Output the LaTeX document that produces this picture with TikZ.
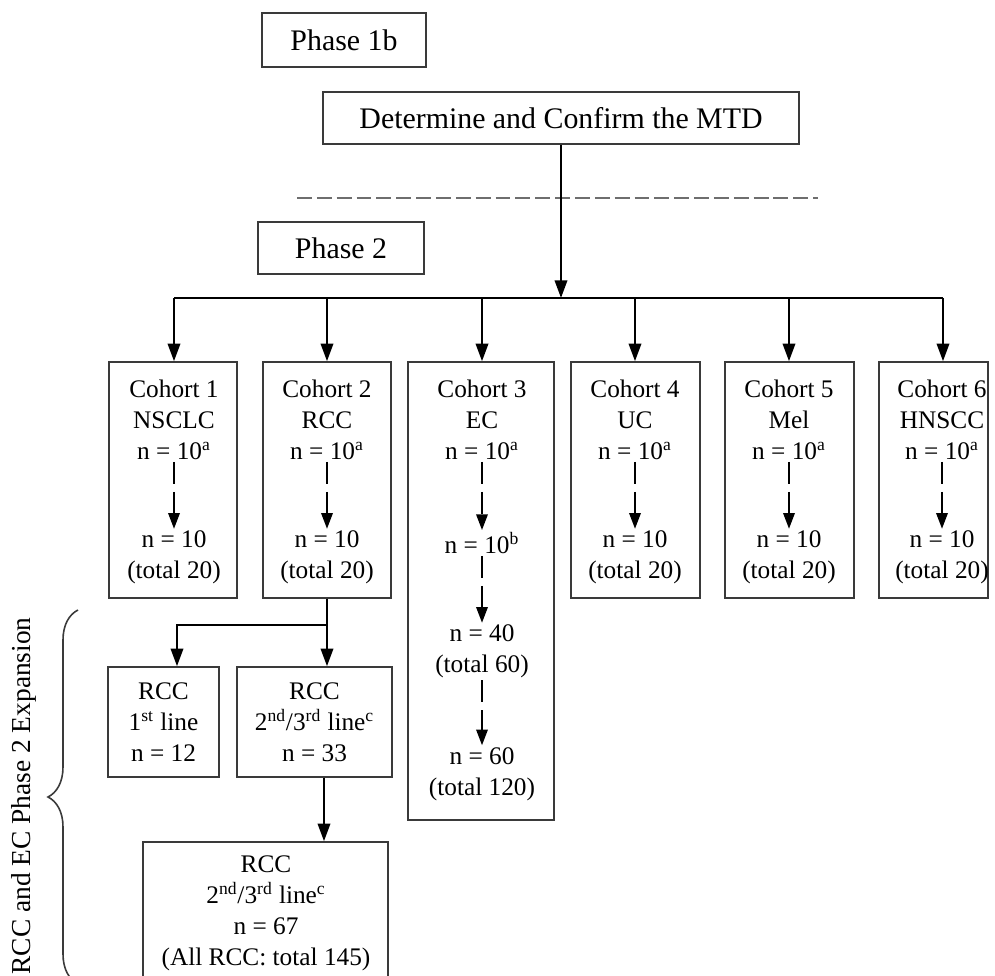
\documentclass[tikz,border=0pt]{standalone}
\usepackage{fontspec}
\setmainfont{Liberation Serif}
\usetikzlibrary{arrows.meta,decorations.pathreplacing}
\definecolor{edge}{HTML}{3A3A3A}
\definecolor{sep}{HTML}{6E6E6E}
\tikzset{
  box/.style={draw=edge, line width=0.85pt, inner sep=0pt},
  big/.style={font=\fontsize{17}{20}\selectfont},
  txt/.style={align=center, inner sep=1pt, font=\fontsize{14.4}{17.6}\selectfont},
  line/.style={line width=1.4pt, black},
  arr/.style={line width=1.4pt, -{Triangle[length=10pt,width=7pt]}},
  darr/.style={line width=1.2pt, dash pattern=on 12.5pt off 4.5pt, -{Triangle[length=9pt,width=6.5pt]}}
}
\begin{document}
\begin{tikzpicture}[x=0.02cm, y=-0.02cm]
\useasboundingbox (0,0) rectangle (995,976);
\node[box, big, minimum width=3.28cm, minimum height=1.08cm] (p1b) at (344,40) {Phase 1b};
\node[box, big, minimum width=9.52cm, minimum height=1.04cm] (mtd) at (561,118) {Determine and Confirm the MTD};
\draw[sep, line width=1.4pt, dash pattern=on 8.5pt off 2.8pt] (297,198) -- (818,198);
\node[box, big, minimum width=3.32cm, minimum height=1.04cm] (p2) at (341,248) {Phase 2};
\coordinate (busl) at (174,298);
\coordinate (busr) at (943,298);
\draw[arr] (mtd) -- (mtd |- busl);
\draw[line] (busl) -- (busr);
\node[box, minimum width=2.56cm, minimum height=4.72cm] (c1) at (173,480) {};
\node[box, minimum width=2.56cm, minimum height=4.72cm] (c2) at (327,480) {};
\node[box, minimum width=2.92cm, minimum height=9.16cm] (c3) at (481,591) {};
\node[box, minimum width=2.58cm, minimum height=4.72cm] (c4) at (635.5,480) {};
\node[box, minimum width=2.58cm, minimum height=4.72cm] (c5) at (789.5,480) {};
\node[box, minimum width=2.18cm, minimum height=4.72cm] (c6) at (933.5,480) {};
\node[txt] (c1a) at (174,420) {Cohort 1\\NSCLC\\n = 10\textsuperscript{a}};
\node[txt] (c1b) at (174,557.5) {n = 10\\(total 20)};
\node[txt] (c2a) at (327,420) {Cohort 2\\RCC\\n = 10\textsuperscript{a}};
\node[txt] (c2b) at (327,557.5) {n = 10\\(total 20)};
\node[txt] (c3a) at (482,420) {Cohort 3\\EC\\n = 10\textsuperscript{a}};
\node[txt] (c3b) at (482,543) {n = 10\textsuperscript{b}};
\node[txt] (c3c) at (482,651.5) {n = 40\\(total 60)};
\node[txt] (c3d) at (482,774) {n = 60\\(total 120)};
\node[txt] (c4a) at (635,420) {Cohort 4\\UC\\n = 10\textsuperscript{a}};
\node[txt] (c4b) at (635,557.5) {n = 10\\(total 20)};
\node[txt] (c5a) at (789,420) {Cohort 5\\Mel\\n = 10\textsuperscript{a}};
\node[txt] (c5b) at (789,557.5) {n = 10\\(total 20)};
\node[txt] (c6a) at (942,420) {Cohort 6\\HNSCC\\n = 10\textsuperscript{a}};
\node[txt] (c6b) at (942,557.5) {n = 10\\(total 20)};
\draw[arr] (c1a |- busl) -- (c1a |- c1.north);
\draw[arr] (c2a |- busl) -- (c2a |- c2.north);
\draw[arr] (c3a |- busl) -- (c3a |- c3.north);
\draw[arr] (c4a |- busl) -- (c4a |- c4.north);
\draw[arr] (c5a |- busl) -- (c5a |- c5.north);
\draw[arr] (busr) -- (busr |- c6.north);
\draw[darr] (c1a) -- (c1b);
\draw[darr] (c2a) -- (c2b);
\draw[darr] (c3a) -- (c3b);
\draw[darr] (c3b) -- (c3c);
\draw[darr] (c3c) -- (c3d);
\draw[darr] (c4a) -- (c4b);
\draw[darr] (c5a) -- (c5b);
\draw[darr] (c6a) -- (c6b);
\node[box, txt, inner sep=0pt, minimum width=2.22cm, minimum height=2.2cm] (r1) at (163.5,722) {RCC\\1\textsuperscript{st} line\\n = 12};
\node[box, txt, inner sep=0pt, minimum width=3.1cm, minimum height=2.2cm] (r2) at (314.5,722) {RCC\\2\textsuperscript{nd}/3\textsuperscript{rd} line\textsuperscript{c}\\n = 33};
\node[box, minimum width=4.9cm, minimum height=3.36cm] (r3) at (265.5,926) {};
\node[txt] (r3t) at (266,913) {RCC\\2\textsuperscript{nd}/3\textsuperscript{rd} line\textsuperscript{c}\\n = 67\\(All RCC: total 145)};
\coordinate (split) at (327,625);
\coordinate (splitl) at (177,625);
\draw[line] (c2) -- (split);
\draw[arr] (split) -- (split |- r2.north);
\draw[arr] (split) -- (splitl) -- (splitl |- r1.north);
\draw[arr] ([xshift=0.19cm]r2.south) -- ([xshift=0.19cm]r2.south |- r3.north);
\draw[edge, line width=0.9pt, decorate, decoration={brace, amplitude=0.6cm}] (78,984) -- (78,610);
\node[rotate=90, anchor=east, inner sep=0pt, font=\fontsize{15.6}{18}\selectfont] (expn) at (24,617) {RCC and EC Phase 2 Expansion};
\end{tikzpicture}
\end{document}
